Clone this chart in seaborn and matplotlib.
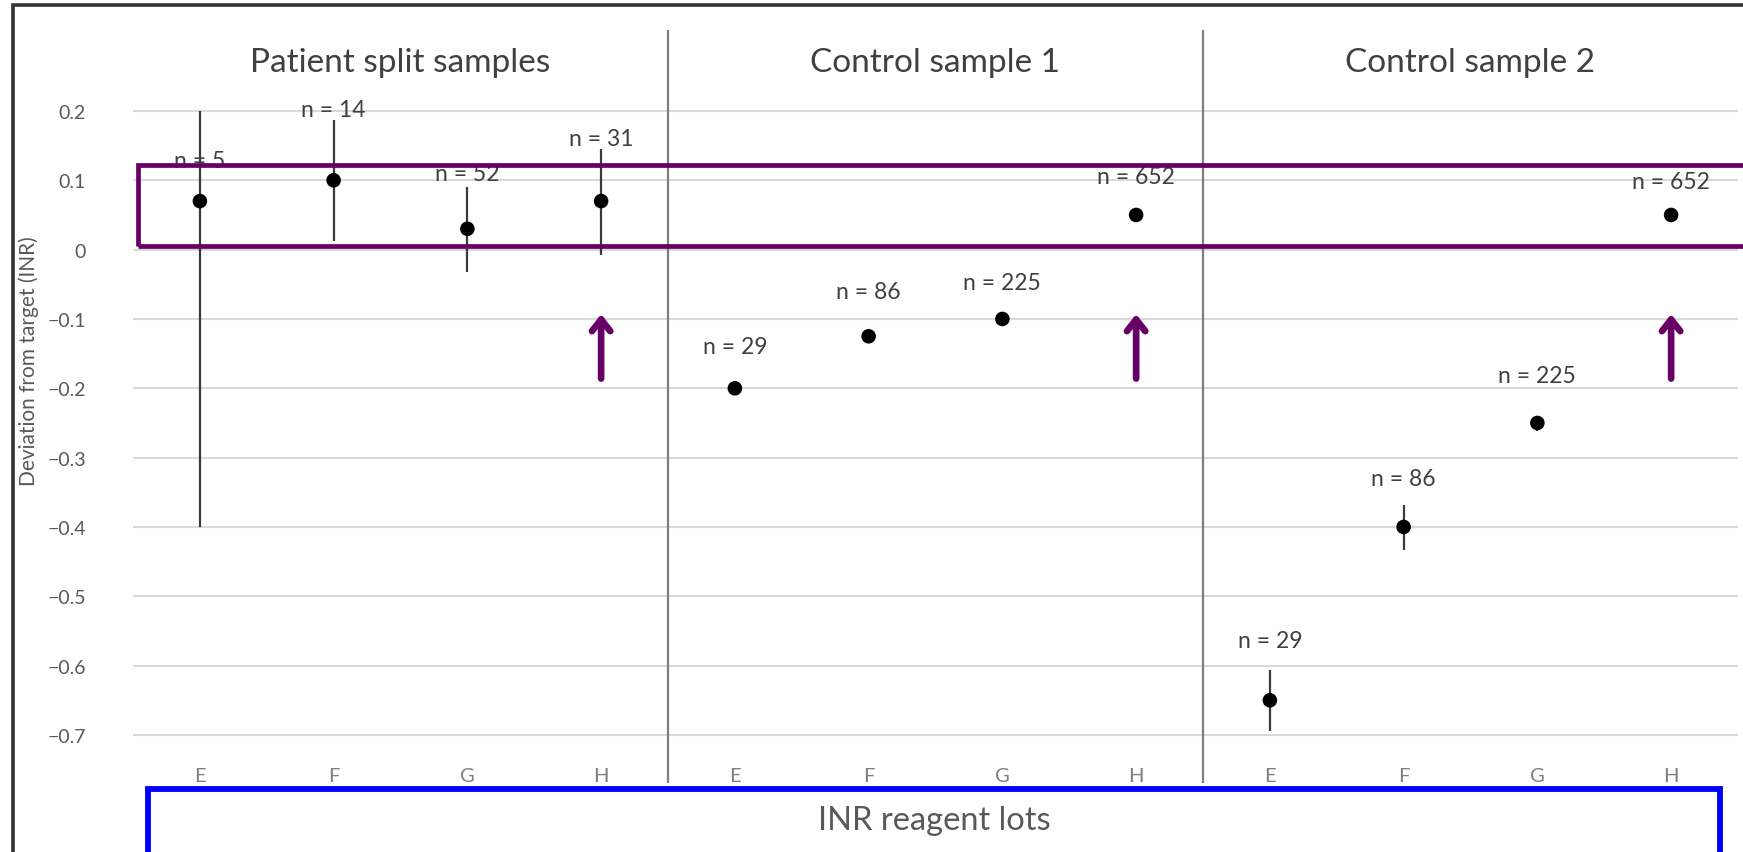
import numpy as np
import pandas as pd
import matplotlib
matplotlib.use("Agg")
import matplotlib.pyplot as plt
import seaborn as sns
from matplotlib.patches import Rectangle

# ---- data -------------------------------------------------------------
groups = ["Patient split samples", "Control sample 1", "Control sample 2"]
lots = ["E", "F", "G", "H"]
deviation = [0.07, 0.10, 0.03, 0.07,
             -0.20, -0.125, -0.10, 0.05,
             -0.65, -0.40, -0.25, 0.05]
ci_lower = [-0.40, 0.013, -0.032, -0.008,
            -0.20, -0.125, -0.10, 0.05,
            -0.695, -0.433, -0.262, 0.05]
ci_upper = [0.20, 0.187, 0.090, 0.145,
            -0.20, -0.125, -0.10, 0.05,
            -0.607, -0.368, -0.240, 0.05]
n_counts = [5, 14, 52, 31, 29, 86, 225, 652, 29, 86, 225, 652]
y_ticks = [0.2, 0.1, 0, -0.1, -0.2, -0.3, -0.4, -0.5, -0.6, -0.7]

# vertical offset (points) of each "n = ..." label above its point
label_offsets = [29, 51, 40, 45, 30, 32, 26, 28, 43, 35, 34, 24]

# ---- frame ------------------------------------------------------------
df = pd.DataFrame({
    "group": np.repeat(groups, len(lots)),
    "lot": lots * len(groups),
    "deviation": deviation,
    "lower": ci_lower,
    "upper": ci_upper,
    "n": n_counts,
})
df["pos"] = np.arange(len(df))

sns.set_theme(style="white")
plt.rcParams["font.family"] = ["Lato", "DejaVu Sans"]

W, H = 1743, 853
fig = plt.figure(figsize=(W / 100, H / 100), dpi=100)
ax = fig.add_axes([133 / W, 0.1047, (1738 - 133) / W, 0.8047])

grey_text = "#595959"
dark_text = "#404040"

# horizontal gridlines
for t in y_ticks:
    ax.axhline(t, color="#d9d9d9", lw=1.5, zorder=0)

# range bars and mean points
ax.vlines(df["pos"], df["lower"], df["upper"], color="#3a3a3a", lw=1.6, zorder=2)
sns.scatterplot(data=df, x="pos", y="deviation", color="black", s=110,
                edgecolor="none", ax=ax, zorder=3, legend=False)

for _, r in df.iterrows():
    ax.annotate(f"n = {r['n']}", xy=(r["pos"], r["deviation"]),
                xytext=(0, label_offsets[int(r["pos"])]), textcoords="offset points",
                ha="center", va="center", fontsize=16.5, color=dark_text, zorder=1)

# group separators and headings
n_lots = len(lots)
for g in range(1, len(groups)):
    ax.vlines(g * n_lots - 0.5, -0.769, 0.317, color="#7f7f7f", lw=1.6,
              clip_on=False, zorder=1)
for g, name in enumerate(groups):
    ax.text(g * n_lots + (n_lots - 1) / 2, 0.271, name, ha="center", va="center",
            fontsize=24, color=dark_text, clip_on=False)

# highlight arrows under lot H
for g in range(len(groups)):
    x_h = g * n_lots + lots.index("H")
    ax.annotate("", xy=(x_h, -0.093), xytext=(x_h, -0.186),
                arrowprops=dict(arrowstyle="->,head_length=0.7,head_width=0.55",
                                lw=4.8, color="#660066", capstyle="round",
                                joinstyle="round", shrinkA=0, shrinkB=0))

ax.set_xlim(-0.5, len(df) - 0.5)
ax.set_ylim(-0.74, 0.25)
ax.set_xticks(df["pos"])
ax.set_xticklabels(df["lot"])
ax.set_yticks(y_ticks)
ax.set_yticklabels([f"{t:g}".replace("-", "\u2212") for t in y_ticks])
ax.tick_params(axis="y", length=0, pad=34, labelsize=14, labelcolor=grey_text)
ax.tick_params(axis="x", length=0, pad=3, labelsize=14.5, labelcolor="#7f7f7f")
ax.set_xlabel("")
ax.set_ylabel("Deviation from target (INR)", fontsize=15, color=grey_text)
ax.yaxis.set_label_coords(-0.0586, 0.587)
sns.despine(ax=ax, left=True, bottom=True)

# outer frame, highlight box and axis title box
fig.patches.append(Rectangle((13 / W, -0.2), 1.2, 1 - 6 / H + 0.2,
                             transform=fig.transFigure, fill=False,
                             ec="#333333", lw=2.6, zorder=10))
fig.patches.append(Rectangle((138 / W, 1 - 247 / H), 1.0, (247 - 166) / H,
                             transform=fig.transFigure, fill=False,
                             ec="#660066", lw=3.4, zorder=10))
fig.patches.append(Rectangle((148 / W, -0.1), (1720 - 148) / W, 0.1 + 1 - 790 / H,
                             transform=fig.transFigure, fill=False,
                             ec="#0000ff", lw=4.2, zorder=10))
fig.text(934 / W, 1 - 821 / H, "INR reagent lots", ha="center", va="center",
         fontsize=23.5, color=grey_text)

fig.savefig("out.png", dpi=100, facecolor="white")
